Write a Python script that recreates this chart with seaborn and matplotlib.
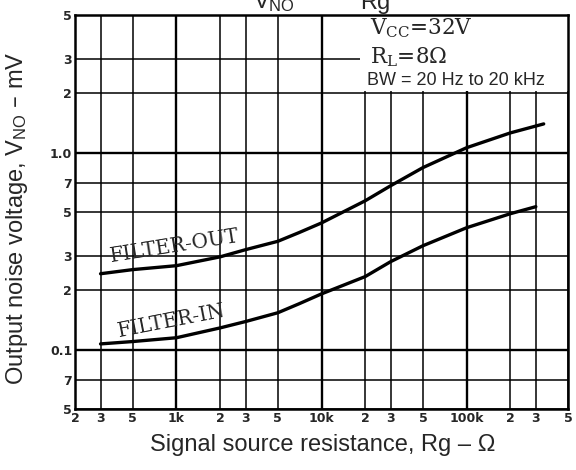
import matplotlib
matplotlib.use("Agg")
import matplotlib.pyplot as plt
from matplotlib.patches import Rectangle
import pandas as pd
import seaborn as sns

# signal source resistance Rg (ohm) and output noise voltage VNO (mV)
RG_OUT = [300, 500, 1000, 2000, 3000, 5000, 7000, 10000, 20000, 30000, 50000, 100000, 200000, 340000]
VNO_OUT = [0.243, 0.255, 0.267, 0.296, 0.322, 0.355, 0.393, 0.44, 0.57, 0.68, 0.84, 1.06, 1.26, 1.40]
RG_IN = [300, 500, 1000, 2000, 3000, 5000, 7000, 10000, 20000, 30000, 50000, 100000, 200000, 300000]
VNO_IN = [0.107, 0.11, 0.115, 0.129, 0.139, 0.154, 0.171, 0.192, 0.235, 0.28, 0.337, 0.416, 0.49, 0.532]

# grid / tick labels
X_MAJOR = [1e3, 1e4, 1e5]
X_MAJOR_LABELS = ["1k", "10k", "100k"]
X_MINOR = [200, 300, 500, 2000, 3000, 5000, 20000, 30000, 50000, 200000, 300000, 500000]
X_MINOR_LABELS = ["2", "3", "5", "2", "3", "5", "2", "3", "5", "2", "3", "5"]
Y_MAJOR = [0.1, 1.0]
Y_MAJOR_LABELS = ["0.1", "1.0"]
Y_MINOR = [0.05, 0.07, 0.2, 0.3, 0.5, 0.7, 2, 3, 5]
Y_MINOR_LABELS = ["5", "7", "2", "3", "5", "7", "2", "3", "5"]

sns.set_theme(style="white")
plt.rcParams["font.family"] = ["Liberation Sans", "DejaVu Sans"]
plt.rcParams["mathtext.default"] = "regular"

df = pd.concat([
    pd.DataFrame({"rg": RG_OUT, "vno": VNO_OUT, "curve": "FILTER-OUT"}),
    pd.DataFrame({"rg": RG_IN, "vno": VNO_IN, "curve": "FILTER-IN"}),
])

fig = plt.figure(figsize=(5.76, 4.70), dpi=100)
ax = fig.add_axes([75 / 576, 1 - 409 / 470, 493 / 576, 394 / 470])

sns.lineplot(data=df, x="rg", y="vno", units="curve", estimator=None,
             color="black", lw=2.4, ax=ax, zorder=3, legend=False)

ax.set_xscale("log")
ax.set_yscale("log")
ax.set_xlim(200, 500000)
ax.set_ylim(0.05, 5)

ax.set_xticks(X_MAJOR)
ax.set_xticklabels(X_MAJOR_LABELS)
ax.set_xticks(X_MINOR, minor=True)
ax.set_xticklabels(X_MINOR_LABELS, minor=True)
ax.set_yticks(Y_MAJOR)
ax.set_yticklabels(Y_MAJOR_LABELS)
ax.set_yticks(Y_MINOR, minor=True)
ax.set_yticklabels(Y_MINOR_LABELS, minor=True)
ax.tick_params(which="both", length=0, pad=2, labelsize=9)
for lab in ax.get_xticklabels(which="both") + ax.get_yticklabels(which="both"):
    lab.set_fontfamily("DejaVu Sans")
    lab.set_fontweight("bold")

ax.set_axisbelow(True)
ax.grid(True, which="major", color="black", lw=1.7)
ax.grid(True, which="minor", color="black", lw=1.1)
for sp in ax.spines.values():
    sp.set_color("black")
    sp.set_linewidth(1.8)
ax.set_xlabel("")
ax.set_ylabel("")

# white panel behind the conditions text
ax.add_patch(Rectangle((18500, 2.05), 500000 - 18500, 5 - 2.05,
                       facecolor="white", edgecolor="none", zorder=1))

ax.text(0.598, 0.952, "$V_{CC}$=32V", transform=ax.transAxes,
        fontsize=15.5, family="DejaVu Serif", va="baseline", zorder=4)
ax.text(0.598, 0.878, "$R_{L}$=8Ω", transform=ax.transAxes,
        fontsize=15.5, family="DejaVu Serif", va="baseline", zorder=4)
ax.text(0.592, 0.822, "BW = 20 Hz to 20 kHz", transform=ax.transAxes,
        fontsize=13, va="baseline", zorder=4)

ax.text(980, 0.333, "FILTER-OUT", fontsize=14.5, family="DejaVu Serif",
        rotation=9, ha="center", va="center", rotation_mode="anchor", zorder=4)
ax.text(933, 0.140, "FILTER-IN", fontsize=14.5, family="DejaVu Serif",
        rotation=11, ha="center", va="center", rotation_mode="anchor", zorder=4)

fig.text(17 / 576, 1 - 218 / 470, "Output noise voltage, $V_{NO}$ – mV",
         rotation=90, ha="center", va="center", fontsize=17)
fig.text(323 / 576, 1 - 445 / 470, "Signal source resistance, Rg – Ω",
         ha="center", va="center", fontsize=17)
# chart title, cut off by the top edge as in the source sheet
fig.text(253 / 576, 1 - 8.5 / 470, "$V_{NO}$", ha="left", va="baseline", fontsize=17)
fig.text(360 / 576, 1 - 8.5 / 470, "Rg", ha="left", va="baseline", fontsize=17)

fig.savefig("out.png", dpi=100)
